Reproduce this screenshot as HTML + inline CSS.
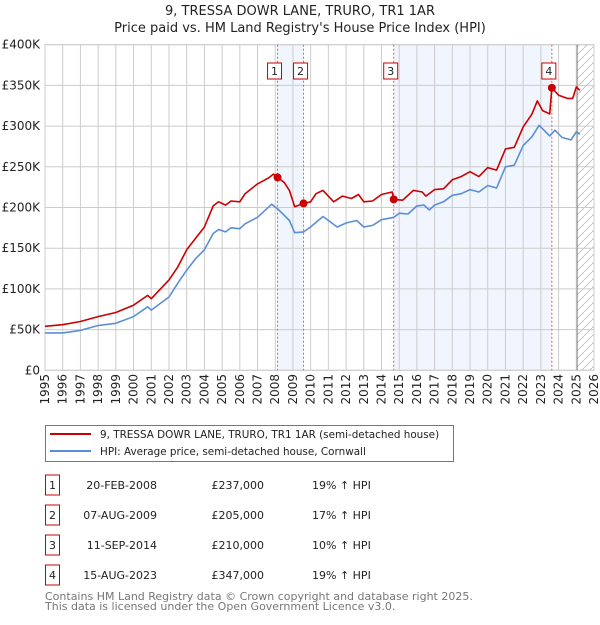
<!DOCTYPE html>
<html><head><meta charset="utf-8"><style>
body{margin:0;background:#fff;font-family:"Liberation Sans","DejaVu Sans",sans-serif;}
svg text{font-family:"DejaVu Sans","Liberation Sans",sans-serif;}
</style></head><body>
<svg id="chart" width="600" height="620" xmlns="http://www.w3.org/2000/svg"></svg>
<script>
const yearTicks=[1995,1996,1997,1998,1999,2000,2001,2002,2003,2004,2005,2006,2007,2008,2009,2010,2011,2012,2013,2014,2015,2016,2017,2018,2019,2020,2021,2022,2023,2024,2025,2026];
const valueTicks=[0,50,100,150,200,250,300,350,400];
const valueTickLabels=["£0","£50K","£100K","£150K","£200K","£250K","£300K","£350K","£400K"];
const hpiT=[1995,1996,1997,1998,1999,2000,2000.8,2001,2002,2002.5,2003,2003.5,2004,2004.5,2004.8,2005.2,2005.5,2006,2006.3,2007,2007.8,2008.2,2008.8,2009.1,2009.6,2010,2010.7,2011.5,2012,2012.6,2013,2013.5,2014,2014.7,2015,2015.5,2016,2016.4,2016.7,2017,2017.5,2018,2018.5,2019,2019.5,2020,2020.5,2021,2021.5,2022,2022.5,2022.9,2023.5,2023.8,2024.2,2024.7,2025,2025.2];
const hpiV=[46,46,49,55,57.7,66,78,74,90,107,123,137,148,168,173,170,175,174,180,188,204,197,184,169,170,176,189,176,181,184,176,178,185,188,193,192,202,203,197,203,207,215,217,222,219,227,224,250,252,276,287,301,288,295,286,283,293,290];
const priceT=[1995,1996,1997,1998,1999,2000,2000.8,2001,2002,2002.5,2003,2003.5,2004,2004.5,2004.8,2005.2,2005.5,2006,2006.3,2007,2007.6,2007.9,2008.13,2008.5,2008.8,2009.1,2009.6,2010,2010.3,2010.7,2011.3,2011.8,2012.3,2012.7,2013,2013.5,2014,2014.6,2014.7,2015.2,2015.8,2016.3,2016.5,2017,2017.5,2018,2018.5,2019,2019.5,2020,2020.5,2021,2021.5,2022,2022.5,2022.8,2023.1,2023.5,2023.62,2024,2024.5,2024.8,2025,2025.2];
const priceV=[54,56,60,66,71,80,92,88,111,127,148,162,176,202,207,203,208,207,217,229,236,241,237,231,221,201,205,207,217,221,207,214,211,216,207,208,216,219,210,209,221,219,214,222,223,234,238,244,238,249,246,272,274,299,315,331,319,315,347,338,334,334,348,344];
const saleT=[2008.13,2009.6,2014.69,2023.62];
const saleV=[237,205,210,347];
const saleLabels=["1","2","3","4"];
const X0=45,X1=594,Y0=370.3,Y1=44.7;
const xs=t=>X0+(t-1995)*(X1-X0)/31;
const ys=v=>Y0-v*(Y0-Y1)/400;
const svg=document.getElementById('chart');
const NS='http://www.w3.org/2000/svg';
function mk(tag,attrs,parent){const e=document.createElementNS(NS,tag);for(const k in attrs)e.setAttribute(k,attrs[k]);(parent||svg).appendChild(e);return e;}
let t;
t=mk('text',{x:300,y:15,'text-anchor':'middle','font-size':13,fill:'#222'});t.textContent='9, TRESSA DOWR LANE, TRURO, TR1 1AR';


t=mk('text',{x:300,y:32,'text-anchor':'middle','font-size':13,fill:'#222'});t.textContent="Price paid vs. HM Land Registry's House Price Index (HPI)";


const bands=[[0,1],[2,3]];
bands.forEach(b=>{const r=mk('rect',{x:xs(saleT[b[0]]),y:Y1,width:xs(saleT[b[1]])-xs(saleT[b[0]]),height:Y0-Y1,fill:'#eef3fc',opacity:0.8});

});
const defs=mk('defs',{});
const pat=mk('pattern',{id:'hatch',width:8,height:8,patternUnits:'userSpaceOnUse'},defs);
mk('path',{d:'M0,8 L8,0',stroke:'#bbb','stroke-width':0.8},pat);
const hr=mk('rect',{x:xs(2025.05),y:Y1,width:X1-xs(2025.05),height:Y0-Y1,fill:'url(#hatch)'});


yearTicks.forEach(y=>{mk('line',{x1:xs(y),x2:xs(y),y1:Y1,y2:Y0,stroke:'#ccc','stroke-width':1});
const l=mk('text',{transform:`translate(${xs(y)+4},374) rotate(-90)`,'text-anchor':'end','font-size':12,fill:'#222'});l.textContent=y;

});
valueTicks.forEach((v,i)=>{mk('line',{x1:X0,x2:X1,y1:ys(v),y2:ys(v),stroke:'#ccc','stroke-width':1});
const l=mk('text',{x:40,y:ys(v)+4,'text-anchor':'end','font-size':12,fill:'#222'});l.textContent=valueTickLabels[i];

});
mk('rect',{x:X0,y:Y1,width:X1-X0,height:Y0-Y1,fill:'none',stroke:'#ccc'});
mk('line',{x1:xs(2025.05),x2:xs(2025.05),y1:Y1,y2:Y0,stroke:'#888','stroke-width':1});
saleT.forEach((s,i)=>{const l=mk('line',{x1:xs(s),x2:xs(s),y1:Y1,y2:Y0,stroke:'#e06060','stroke-width':1,'stroke-dasharray':'2,2'});


const g=mk('g',{});


mk('rect',{x:xs(s)-10,y:63,width:14,height:16,fill:'#fff',stroke:'#c00'},g);
const tx=mk('text',{x:xs(s)-3,y:75,'text-anchor':'middle','font-size':11,fill:'#222'},g);tx.textContent=saleLabels[i];});
function line(T,V,color,name){const d=T.map((t,i)=>(i?'L':'M')+xs(t).toFixed(1)+','+ys(V[i]).toFixed(1)).join(' ');
const p=mk('path',{d:d,fill:'none',stroke:color,'stroke-width':1.6,'stroke-linejoin':'round'});

}
line(hpiT,hpiV,'#5b8ed6','hpi-line');
line(priceT,priceV,'#cc0000','price-line');
saleT.forEach((s,i)=>{const c=mk('circle',{cx:xs(s),cy:ys(saleV[i]),r:4,fill:'#cc0000'});

});
const lg=mk('g',{});


mk('rect',{x:45.5,y:425.5,width:408,height:36,fill:'#fff',stroke:'#777'},lg);
mk('line',{x1:50,x2:91,y1:434,y2:434,stroke:'#cc0000','stroke-width':2},lg);
mk('line',{x1:50,x2:91,y1:451,y2:451,stroke:'#5b8ed6','stroke-width':2},lg);
t=mk('text',{x:100,y:438,'font-size':10.4,fill:'#222'},lg);t.textContent='9, TRESSA DOWR LANE, TRURO, TR1 1AR (semi-detached house)';
t=mk('text',{x:100,y:455,'font-size':10.4,fill:'#222'},lg);t.textContent='HPI: Average price, semi-detached house, Cornwall';
const rows=[["1","20-FEB-2008","£237,000","19% ↑ HPI"],["2","07-AUG-2009","£205,000","17% ↑ HPI"],["3","11-SEP-2014","£210,000","10% ↑ HPI"],["4","15-AUG-2023","£347,000","19% ↑ HPI"]];
rows.forEach((r,i)=>{const y=483+i*30;const g=mk('g',{});


mk('rect',{x:45.5,y:y-8,width:14,height:20,fill:'#fff',stroke:'#c00'},g);
let a=mk('text',{x:52.5,y:y+6,'text-anchor':'middle','font-size':11,fill:'#222'},g);a.textContent=r[0];
a=mk('text',{x:157,y:y+6,'text-anchor':'end','font-size':11,fill:'#222'},g);a.textContent=r[1];
a=mk('text',{x:264,y:y+6,'text-anchor':'end','font-size':11,fill:'#222'},g);a.textContent=r[2];
a=mk('text',{x:312,y:y+6,'font-size':11,fill:'#222'},g);a.textContent=r[3];});
t=mk('text',{x:45,y:600,'font-size':11,fill:'#777'});t.textContent='Contains HM Land Registry data © Crown copyright and database right 2025.';


t=mk('text',{x:45,y:610,'font-size':11,fill:'#777'});t.textContent='This data is licensed under the Open Government Licence v3.0.';


</script>
</body></html>
